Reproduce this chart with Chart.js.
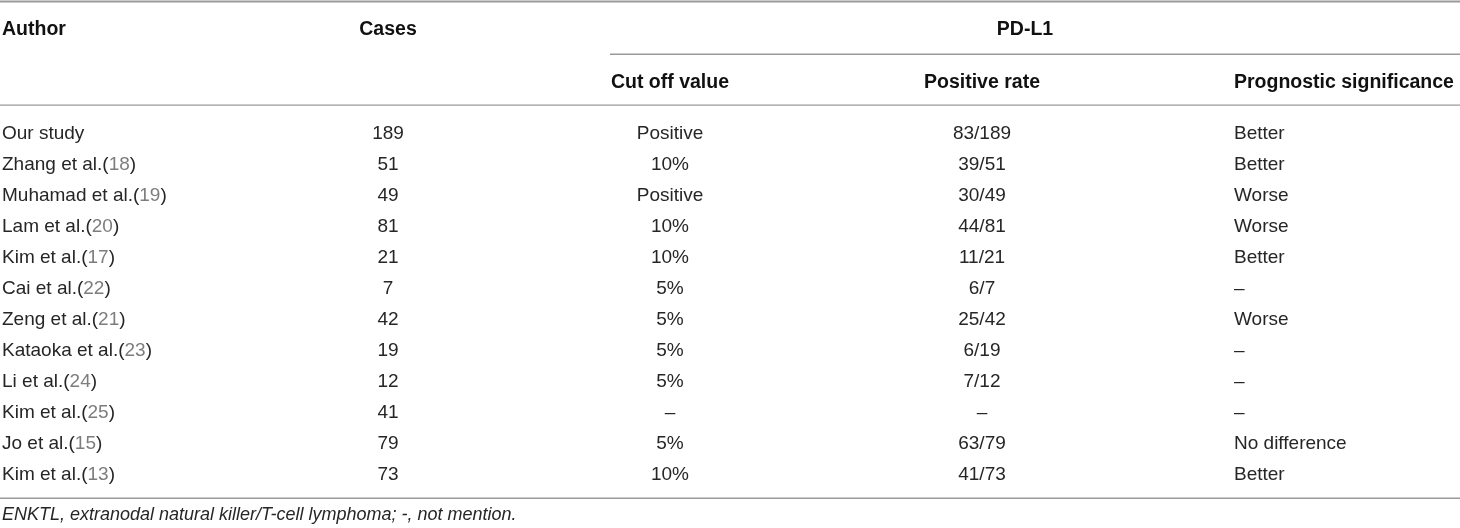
<!DOCTYPE html>
<html>
<head>
<meta charset="utf-8">
<script src="https://cdn.jsdelivr.net/npm/chart.js@4"></script>
<style>
  html, body { margin: 0; padding: 0; background: #fff; }
  #wrap { width: 1460px; height: 528px; position: relative; }
</style>
</head>
<body>
<div id="wrap"><canvas id="tableChart"></canvas></div>
<script>
// Table data
const authors = ['Our study', 'Zhang et al.', 'Muhamad et al.', 'Lam et al.', 'Kim et al.', 'Cai et al.',
    'Zeng et al.', 'Kataoka et al.', 'Li et al.', 'Kim et al.', 'Jo et al.', 'Kim et al.'];
const refs = [null, 18, 19, 20, 17, 22, 21, 23, 24, 25, 15, 13];
const cases = [189, 51, 49, 81, 21, 7, 42, 19, 12, 41, 79, 73];
const cutOff = ['Positive', '10%', 'Positive', '10%', '10%', '5%', '5%', '5%', '5%', '–', '5%', '10%'];
const positiveRate = ['83/189', '39/51', '30/49', '44/81', '11/21', '6/7', '25/42', '6/19', '7/12', '–', '63/79', '41/73'];
const prognosis = ['Better', 'Better', 'Worse', 'Worse', 'Better', '–', 'Worse', '–', '–', '–', 'No difference', 'Better'];

const headers = ['Author', 'Cases', 'Cut off value', 'Positive rate', 'Prognostic significance'];
const groupHeader = 'PD-L1';
const footnote = 'ENKTL, extranodal natural killer/T-cell lymphoma; -, not mention.';

// Column anchors on the x scale and how each column is aligned
const colX = [2, 388, 670, 982, 1234];
const colAlign = ['left', 'center', 'center', 'center', 'left'];
// Row positions (in row units) of the header parts and rules
const rows = { topRule: -4.26, head: -3.34, groupRule: -2.56, subHead: -1.66, headRule: -0.92, bottomRule: 11.76, note: 12.31 };

const FONT = '"Liberation Sans", Arial, sans-serif';
const TEXT = '#262626';
const REF = '#7d7d7d';
const RULE = '#9a9a9a';

function cellText(col, i) {
    if (col === 1) return String(cases[i]);
    if (col === 2) return cutOff[i];
    if (col === 3) return positiveRate[i];
    if (col === 4) return prognosis[i];
    return authors[i];
}

const datasets = colX.map((x, col) => ({
    label: headers[col],
    data: authors.map((a, i) => ({ x: x, y: i })),
    pointRadius: 0,
    pointHoverRadius: 0
}));

const tablePlugin = {
    id: 'tablePlugin',
    afterDatasetsDraw(chart) {
        const ctx = chart.ctx;
        const xs = chart.scales.x;
        const ys = chart.scales.y;
        ctx.save();
        ctx.textBaseline = 'middle';

        // rules
        function rule(y, x0, x1, w) {
            ctx.strokeStyle = RULE;
            ctx.lineWidth = w;
            ctx.beginPath();
            ctx.moveTo(xs.getPixelForValue(x0), ys.getPixelForValue(y));
            ctx.lineTo(xs.getPixelForValue(x1), ys.getPixelForValue(y));
            ctx.stroke();
        }
        rule(rows.topRule, 0, 1460, 2);
        rule(rows.groupRule, 610, 1460, 1.3);
        rule(rows.headRule, 0, 1460, 1.3);
        rule(rows.bottomRule, 0, 1460, 1.3);

        // headers
        ctx.fillStyle = '#111';
        ctx.font = 'bold 19.5px ' + FONT;
        ctx.textAlign = 'left';
        ctx.fillText(headers[0], xs.getPixelForValue(colX[0]), ys.getPixelForValue(rows.head));
        ctx.textAlign = 'center';
        ctx.fillText(headers[1], xs.getPixelForValue(colX[1]), ys.getPixelForValue(rows.head));
        ctx.fillText(groupHeader, xs.getPixelForValue(1025), ys.getPixelForValue(rows.head));
        for (let c = 2; c < headers.length; c++) {
            ctx.textAlign = colAlign[c];
            ctx.fillText(headers[c], xs.getPixelForValue(colX[c]), ys.getPixelForValue(rows.subHead));
        }

        // body cells, placed at each dataset point
        ctx.font = '19px ' + FONT;
        chart.data.datasets.forEach((ds, col) => {
            const meta = chart.getDatasetMeta(col);
            meta.data.forEach((pt, i) => {
                ctx.textAlign = colAlign[col];
                if (col === 0 && refs[i] !== null) {
                    let x = pt.x;
                    ctx.textAlign = 'left';
                    const parts = [[authors[i] + '(', TEXT], [String(refs[i]), REF], [')', TEXT]];
                    parts.forEach(p => {
                        ctx.fillStyle = p[1];
                        ctx.fillText(p[0], x, pt.y);
                        x += ctx.measureText(p[0]).width;
                    });
                } else {
                    ctx.fillStyle = TEXT;
                    ctx.fillText(cellText(col, i), pt.x, pt.y);
                }
            });
        });

        // footnote
        ctx.font = 'italic 18px ' + FONT;
        ctx.fillStyle = TEXT;
        ctx.textAlign = 'left';
        ctx.fillText(footnote, xs.getPixelForValue(colX[0]), ys.getPixelForValue(rows.note));
        ctx.restore();
    }
};

new Chart(document.getElementById('tableChart'), {
    type: 'scatter',
    data: { datasets: datasets },
    options: {
        responsive: true,
        maintainAspectRatio: false,
        animation: false,
        events: [],
        layout: { padding: 0 },
        plugins: { legend: { display: false }, tooltip: { enabled: false } },
        scales: {
            x: { type: 'linear', min: 0, max: 1460, display: false },
            y: { type: 'linear', min: -4.31, max: 12.72, reverse: true, display: false }
        }
    },
    plugins: [tablePlugin]
});
</script>
</body>
</html>
